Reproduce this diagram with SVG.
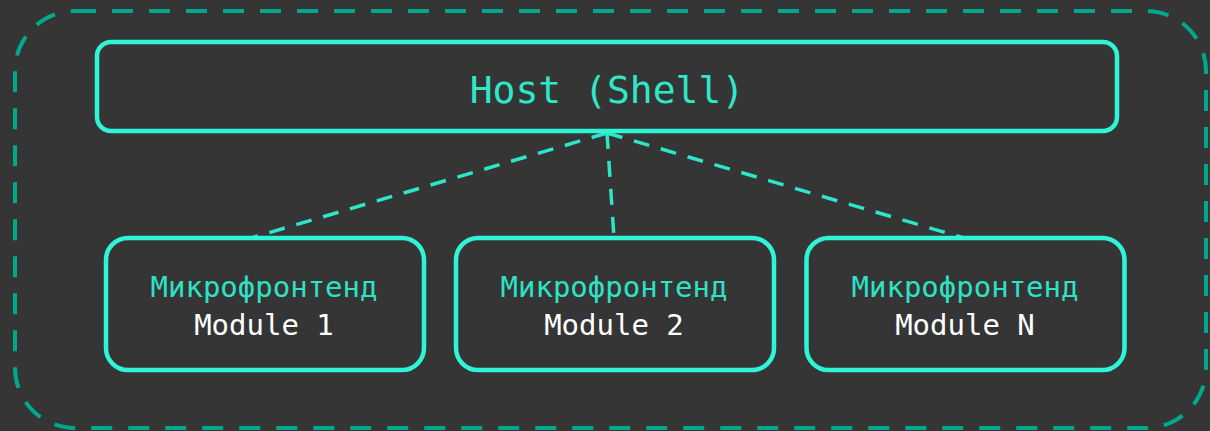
<svg xmlns="http://www.w3.org/2000/svg" width="1210" height="431" viewBox="0 0 1210 431">
  <style>
    .frame { fill: none; stroke: #00a98d; stroke-width: 4; stroke-dasharray: 21 16; }
    .box { fill: #353535; stroke: #2ef5d6; stroke-width: 4.5; }
    .link { fill: none; stroke: #2de6c9; stroke-width: 3.5; stroke-dasharray: 16 12; }
    .mono { font-family: "DejaVu Sans Mono", "Liberation Mono", monospace; text-anchor: middle; }
    .title { fill: #2ee8c9; font-size: 38px; }
    .kind { fill: #2ee2c6; font-size: 29px; }
    .name { fill: #ffffff; font-size: 29px; }
  </style>
  <rect width="1210" height="431" fill="#353535"/>

  <!-- outer boundary -->
  <rect class="frame" x="15" y="11" width="1191" height="417" rx="60" ry="60"/>

  <!-- connectors from host to modules -->
  <g id="connectors">
    <line class="link" x1="607" y1="133" x2="251" y2="238"/>
    <line class="link" x1="607" y1="133" x2="614" y2="238"/>
    <line class="link" x1="607" y1="133" x2="964" y2="238"/>
  </g>

  <g id="host">
    <rect class="box" x="97" y="42" width="1020" height="89" rx="14" ry="14"/>
    <text class="mono title" x="607" y="103">Host (Shell)</text>
  </g>

  <g id="module-1">
    <rect class="box" x="106" y="238" width="318" height="132" rx="22" ry="22"/>
    <text class="mono kind" x="264" y="297">Микрофронтенд</text>
    <text class="mono name" x="264" y="335">Module 1</text>
  </g>

  <g id="module-2">
    <rect class="box" x="456" y="238" width="318" height="132" rx="22" ry="22"/>
    <text class="mono kind" x="614" y="297">Микрофронтенд</text>
    <text class="mono name" x="614" y="335">Module 2</text>
  </g>

  <g id="module-n">
    <rect class="box" x="806.5" y="238" width="318" height="132" rx="22" ry="22"/>
    <text class="mono kind" x="965" y="297">Микрофронтенд</text>
    <text class="mono name" x="965" y="335">Module N</text>
  </g>
</svg>
